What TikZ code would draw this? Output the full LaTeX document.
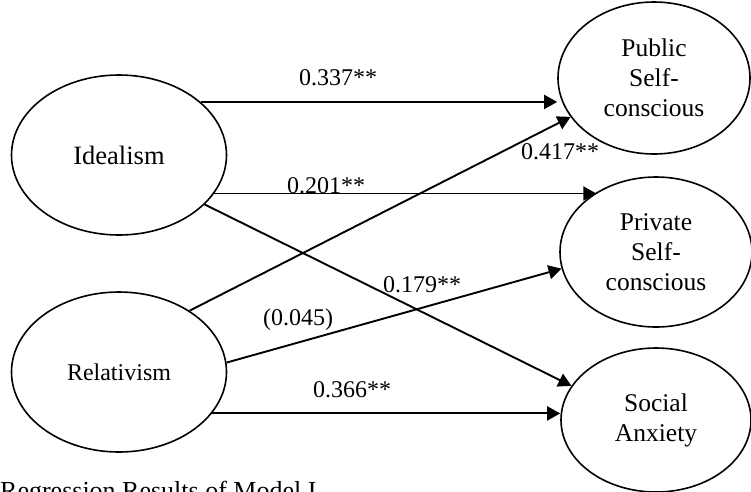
\documentclass[tikz,border=0pt]{standalone}
\usepackage{fontspec}
\setmainfont{Liberation Serif}
\usetikzlibrary{shapes.geometric,arrows.meta}
\begin{document}
\begin{tikzpicture}[x=1pt,y=-1pt,
  ell/.style={ellipse,draw,line width=1.6pt,inner sep=0pt,align=center,
    font=\fontsize{25.5}{30}\selectfont},
  arr/.style={line width=1.9pt,-{Triangle[length=13pt,width=14pt]}},
  lab/.style={font=\fontsize{24}{28}\selectfont,inner sep=0pt},
  ]
\useasboundingbox (0,0) rectangle (751,491);
% ellipses
\node[ell,minimum width=215pt,minimum height=160pt,font=\fontsize{26.5}{31}\selectfont] (ide) at (119,155) {Idealism};
\node[ell,minimum width=215pt,minimum height=160pt,font=\fontsize{24}{31}\selectfont] (rel) at (119,372) {Relativism};
\node[ell,minimum width=192pt,minimum height=152pt] (pub) at (654,78) {Public\\Self-\\conscious};
\node[ell,minimum width=192pt,minimum height=150pt] (pri) at (656,252) {Private\\Self-\\conscious};
\node[ell,minimum width=190pt,minimum height=144pt] (soc) at (656,420) {Social\\Anxiety};
% connectors
\draw[arr] (ide.33) -- (ide.33 -| pub.west);
\draw[arr] (ide.-22) -- (ide.-22 -| pri.135);
\draw[arr] (ide.-30) -- (soc.158);
\draw[arr] (rel.41) -- (pub.205);
\draw[arr] (rel.5) -- (pri.190);
\draw[arr] (rel.-24) -- (rel.-24 -| soc.west);
% labels
\node[lab] (l1) at (338,78) {0.337**};
\node[lab] (l2) at (326,186) {0.201**};
\node[lab] (l3) at (560,152) {0.417**};
\node[lab] (l4) at (422,285) {0.179**};
\node[lab] (l5) at (298,320) {(0.045)};
\node[lab] (l6) at (352,390) {0.366**};
% caption
\node[anchor=base west,inner sep=0pt,font=\fontsize{26}{30}\selectfont] (cap) at (0,499) {Regression Results of Model I};
\end{tikzpicture}
\end{document}
